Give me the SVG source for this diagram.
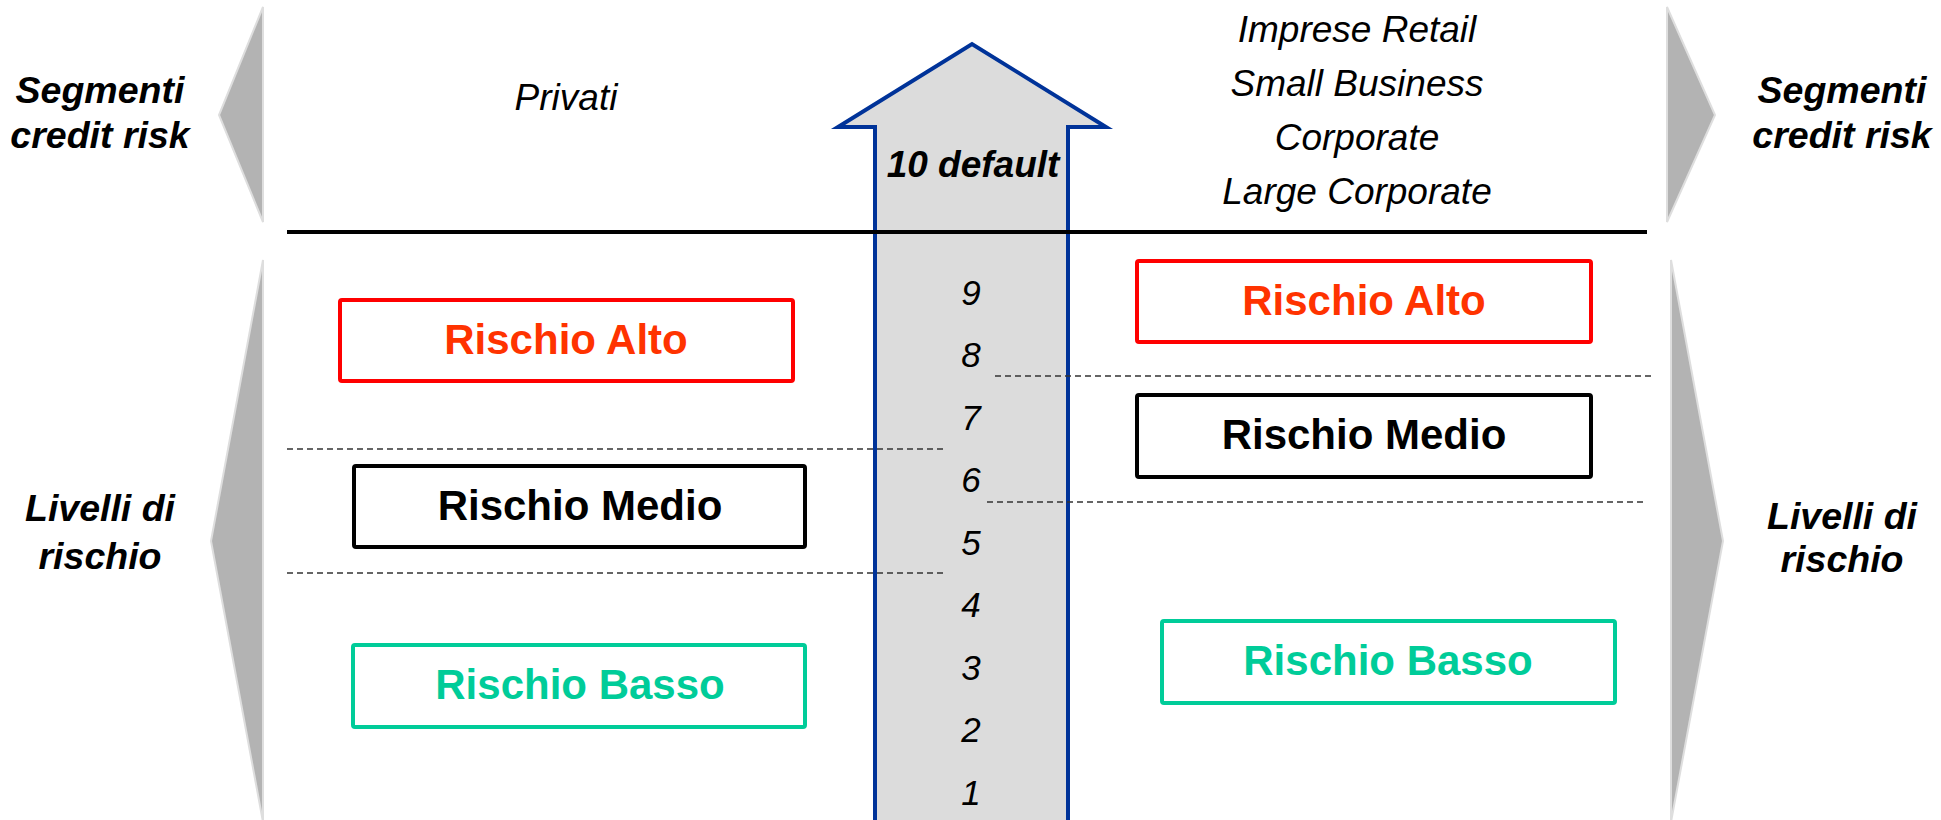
<svg xmlns="http://www.w3.org/2000/svg" width="1941" height="820" viewBox="0 0 1941 820">
<style>
.side{font-family:"Liberation Sans",Arial,sans-serif;font-size:37.5px;font-weight:bold;font-style:italic;fill:#000;text-anchor:middle}
.seg{font-family:"Liberation Sans",Arial,sans-serif;font-size:37px;font-style:italic;fill:#000;text-anchor:middle}
.num{font-family:"Liberation Sans",Arial,sans-serif;font-size:35px;font-style:italic;fill:#000;text-anchor:middle}
.lab{font-family:"Liberation Sans",Arial,sans-serif;font-size:42px;font-weight:bold;text-anchor:middle}
.tri{fill:#b3b3b3;stroke:#dedede;stroke-width:2}
.box{fill:#fff;stroke-width:4}
.dash{stroke:#333;stroke-width:1.5;stroke-dasharray:6 4;fill:none}
</style>
<rect width="1941" height="820" fill="#fff"/>
<g id="triangles">
<polygon class="tri" points="263,7 219,115 263,222"/>
<polygon class="tri" points="1667,7 1715,115 1667,222"/>
<polygon class="tri" points="263,260 211,541 263,822"/>
<polygon class="tri" points="1671,260 1723,541 1671,822"/>
</g>
<g id="side-labels">
<text class="side" x="100" y="103">Segmenti</text>
<text class="side" x="100" y="148">credit risk</text>
<text class="side" x="1842" y="103">Segmenti</text>
<text class="side" x="1842" y="148">credit risk</text>
<text class="side" x="100" y="521">Livelli di</text>
<text class="side" x="100" y="569">rischio</text>
<text class="side" x="1842" y="529">Livelli di</text>
<text class="side" x="1842" y="572">rischio</text>
</g>
<g id="segments">
<text class="seg" x="566" y="110">Privati</text>
<text class="seg" x="1357" y="42">Imprese Retail</text>
<text class="seg" x="1357" y="96">Small Business</text>
<text class="seg" x="1357" y="150">Corporate</text>
<text class="seg" x="1357" y="204">Large Corporate</text>
</g>
<g id="scale-arrow">
<polygon points="875,830 875,127 838,127 972,44 1106,127 1068,127 1068,830" fill="#dcdcdc" stroke="#003399" stroke-width="4" stroke-linejoin="miter"/>
<text class="side" x="973" y="177" style="font-size:37px">10 default</text>
<text class="num" x="971" y="305">9</text>
<text class="num" x="971" y="367">8</text>
<text class="num" x="971" y="430">7</text>
<text class="num" x="971" y="492">6</text>
<text class="num" x="971" y="555">5</text>
<text class="num" x="971" y="617">4</text>
<text class="num" x="971" y="680">3</text>
<text class="num" x="971" y="742">2</text>
<text class="num" x="971" y="805">1</text>
</g>
<g id="connectors">
<line x1="287" y1="232" x2="1647" y2="232" stroke="#000" stroke-width="4"/>
<line class="dash" x1="287" y1="449" x2="944" y2="449"/>
<line class="dash" x1="287" y1="573" x2="944" y2="573"/>
<line class="dash" x1="995" y1="376" x2="1653" y2="376"/>
<line class="dash" x1="987" y1="502" x2="1647" y2="502"/>
</g>
<g id="privati-alto">
<rect class="box" x="340" y="300" width="453" height="81" rx="2" stroke="#ff0000"/>
<text class="lab" x="566" y="354" fill="#ff3300">Rischio Alto</text>
</g>
<g id="privati-medio">
<rect class="box" x="354" y="466" width="451" height="81" rx="2" stroke="#000"/>
<text class="lab" x="580" y="520" fill="#000">Rischio Medio</text>
</g>
<g id="privati-basso">
<rect class="box" x="353" y="645" width="452" height="82" rx="2" stroke="#00cc99"/>
<text class="lab" x="580" y="699" fill="#00cc99">Rischio Basso</text>
</g>
<g id="imprese-alto">
<rect class="box" x="1137" y="261" width="454" height="81" rx="2" stroke="#ff0000"/>
<text class="lab" x="1364" y="315" fill="#ff3300">Rischio Alto</text>
</g>
<g id="imprese-medio">
<rect class="box" x="1137" y="395" width="454" height="82" rx="2" stroke="#000"/>
<text class="lab" x="1364" y="449" fill="#000">Rischio Medio</text>
</g>
<g id="imprese-basso">
<rect class="box" x="1162" y="621" width="453" height="82" rx="2" stroke="#00cc99"/>
<text class="lab" x="1388" y="675" fill="#00cc99">Rischio Basso</text>
</g>
</svg>
